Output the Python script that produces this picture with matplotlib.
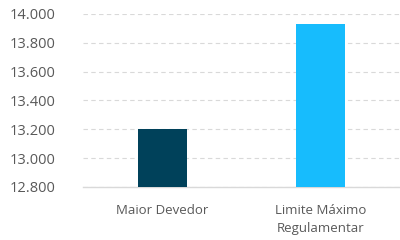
import numpy as np
import matplotlib
matplotlib.use("Agg")
import matplotlib.pyplot as plt
from matplotlib.ticker import FuncFormatter

# Data
categories = ["Maior Devedor", "Limite Máximo\nRegulamentar"]
values = [13200, 13930]
colors = ["#00415A", "#17BCFD"]
yticks = [12800, 13000, 13200, 13400, 13600, 13800, 14000]

plt.rcParams['font.family'] = ['Open Sans', 'DejaVu Sans']

fig = plt.figure(figsize=(4, 2.4), dpi=100)
ax = fig.add_axes([0.2075, 0.221, 0.7925, 0.721])

x = np.arange(len(categories))
ax.bar(x, values, width=0.31, color=colors, zorder=3)

ax.set_ylim(12800, 14000)
ax.set_xlim(-0.5, 1.5)
ax.set_yticks(yticks)
ax.yaxis.set_major_formatter(FuncFormatter(lambda v, p: f"{int(v):,}".replace(",", ".")))
ax.set_xticks(x)
ax.set_xticklabels(categories, fontsize=9.5, color="#595959", linespacing=1.55)
ax.tick_params(axis='y', labelsize=10.5, colors="#595959", length=0, pad=20)
ax.tick_params(axis='x', length=0, pad=12)

ax.grid(axis='y', color="#D9D9D9", linestyle=(0, (4, 3)), linewidth=0.8, zorder=0)
for s in ["top", "right", "left"]:
    ax.spines[s].set_visible(False)
ax.spines["bottom"].set_color("#D9D9D9")
ax.spines["bottom"].set_linewidth(1)

plt.savefig("out.png", dpi=100)
